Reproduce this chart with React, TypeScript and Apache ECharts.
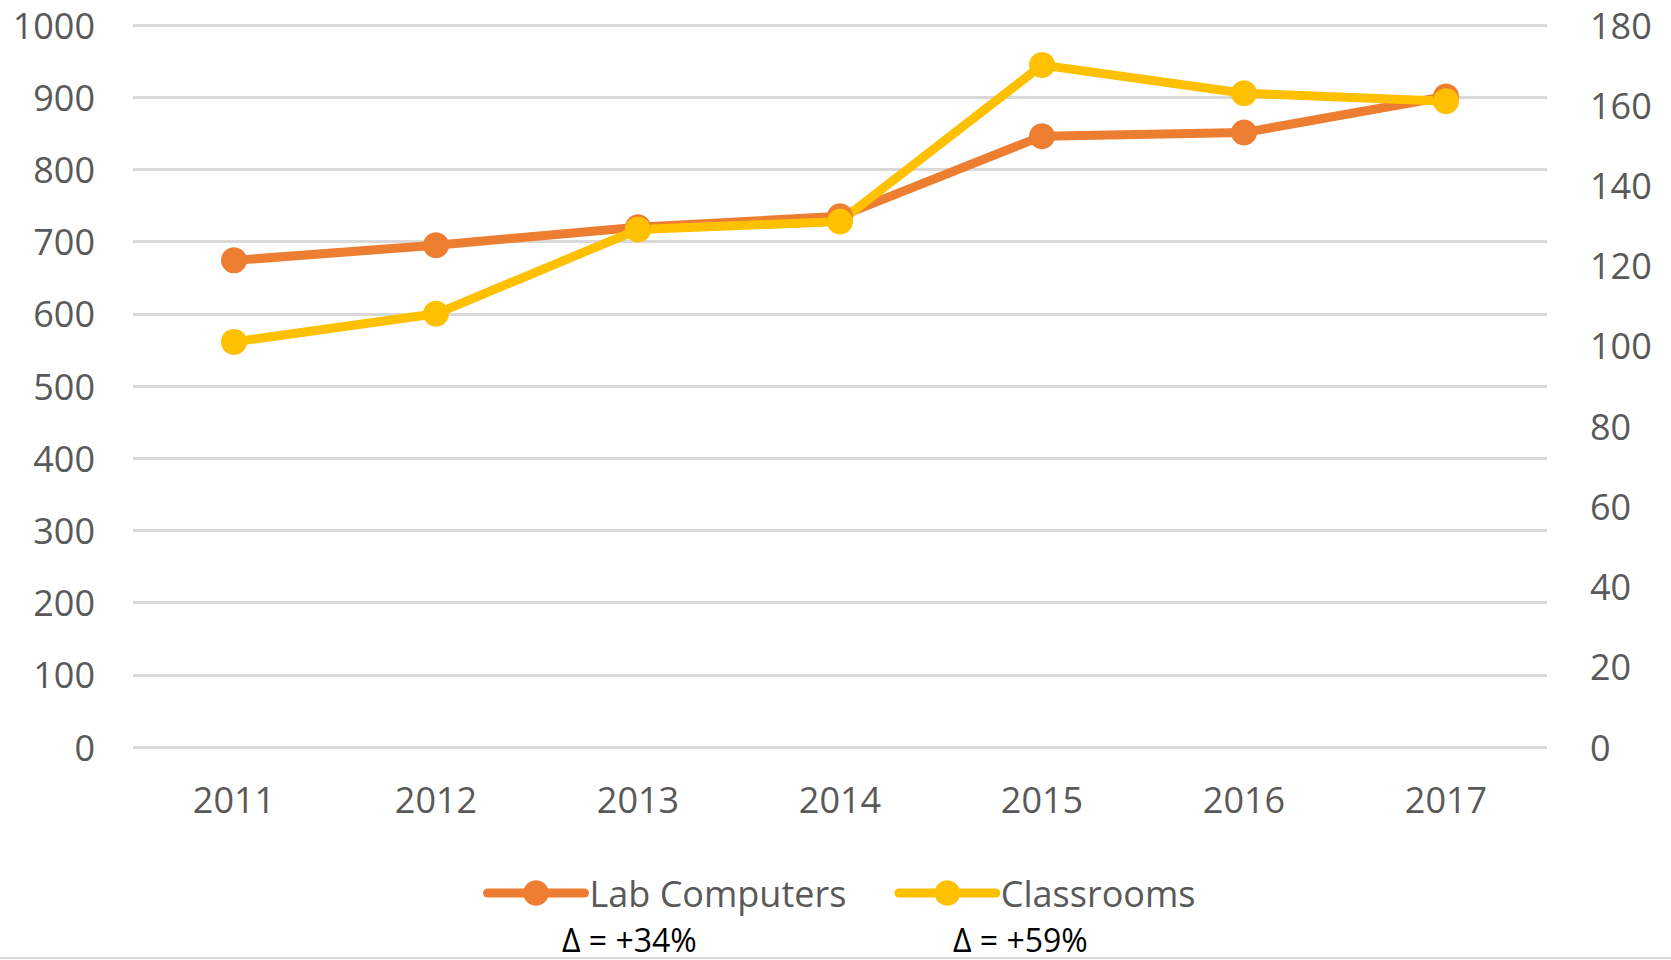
import React, { useEffect, useRef } from "react";
import * as echarts from "echarts";

const years = ["2011", "2012", "2013", "2014", "2015", "2016", "2017"];
const labComputers = [674, 695, 720, 735, 846, 851, 901];
const classrooms = [101, 108, 129, 131, 170, 163, 161];
const seriesNames = ["Lab Computers", "Classrooms"];
const deltaLabels = ["Δ = +34%", "Δ = +59%"];

const FONT = "'Open Sans', sans-serif";
const GRAY = "#595959";

export default function App() {
  const ref = useRef<HTMLDivElement>(null);
  useEffect(() => {
    if (!ref.current) return;
    const chart = echarts.init(ref.current, null, { renderer: "svg" });
    chart.setOption({
      animation: false,
      backgroundColor: "#ffffff",
      textStyle: { fontFamily: FONT },
      grid: { left: 133, right: 124, top: 25, bottom: 213, containLabel: false },
      legend: {
        data: seriesNames,
        left: 478,
        top: 870,
        itemWidth: 97,
        itemHeight: 32,
        itemGap: 48,
        lineStyle: { width: 9, cap: "round" },
        textStyle: { fontFamily: FONT, fontSize: 36, color: GRAY },
      },
      xAxis: {
        type: "category",
        data: years,
        boundaryGap: true,
        axisLine: { show: false },
        axisTick: { show: false },
        axisLabel: { fontFamily: FONT, fontSize: 36, color: GRAY, margin: 34 },
      },
      yAxis: [
        {
          type: "value",
          min: 0,
          max: 1000,
          interval: 100,
          axisLine: { show: false },
          axisTick: { show: false },
          splitLine: { lineStyle: { color: "#d9d9d9", width: 3 } },
          axisLabel: {
            fontFamily: FONT,
            fontSize: 36,
            color: GRAY,
            margin: 38,
            formatter: (v: number) => String(v),
          },
        },
        {
          type: "value",
          min: 0,
          max: 180,
          interval: 20,
          position: "right",
          axisLine: { show: false },
          axisTick: { show: false },
          splitLine: { show: false },
          axisLabel: {
            fontFamily: FONT,
            fontSize: 36,
            color: GRAY,
            margin: 43,
            formatter: (v: number) => String(v),
          },
        },
      ],
      series: [
        {
          name: seriesNames[0],
          type: "line",
          yAxisIndex: 0,
          data: labComputers,
          symbol: "circle",
          symbolSize: 26,
          color: "#ED7D31",
          lineStyle: { width: 9, color: "#ED7D31" },
          itemStyle: { color: "#ED7D31" },
        },
        {
          name: seriesNames[1],
          type: "line",
          yAxisIndex: 1,
          data: classrooms,
          symbol: "circle",
          symbolSize: 26,
          color: "#FFC000",
          lineStyle: { width: 9, color: "#FFC000" },
          itemStyle: { color: "#FFC000" },
        },
      ],
      graphic: [
        {
          type: "text",
          left: 562,
          top: 923,
          style: { text: deltaLabels[0], font: `32px ${FONT}`, fill: "#000000" },
        },
        {
          type: "text",
          left: 953,
          top: 923,
          style: { text: deltaLabels[1], font: `32px ${FONT}`, fill: "#000000" },
        },
        {
          type: "rect",
          shape: { x: 0, y: 957, width: 1671, height: 2 },
          style: { fill: "#d9d9d9" },
        },
      ],
    });
    return () => chart.dispose();
  }, []);
  return (
    <div
      ref={ref}
      style={{ position: "fixed", left: 0, top: 0, width: 1671, height: 960 }}
    />
  );
}
